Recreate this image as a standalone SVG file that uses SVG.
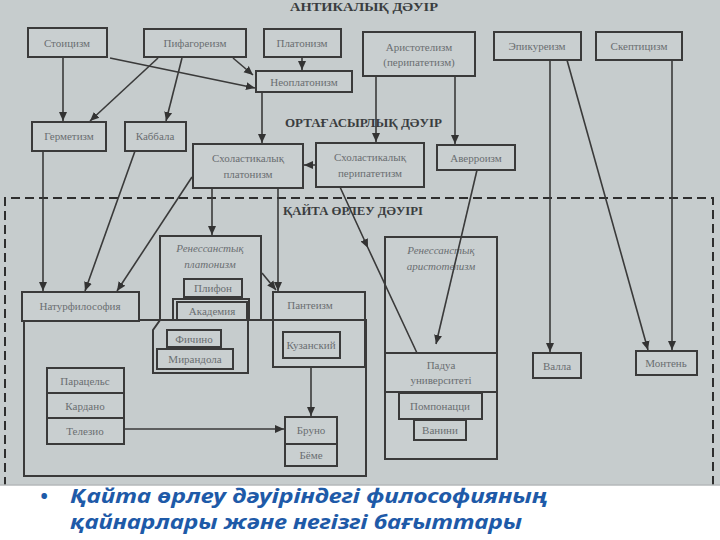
<svg xmlns="http://www.w3.org/2000/svg" width="720" height="540" viewBox="0 0 720 540">
<defs>
<style>
.bg{fill:#c6cccd}
.b{fill:#c9cfd0;stroke:#3a3a3a;stroke-width:2}
.bl{fill:none;stroke:#3a3a3a;stroke-width:2}
.t{font-family:"Liberation Serif","DejaVu Serif",serif;font-size:11px;fill:#6a6e70;text-anchor:middle}
.ti{font-family:"Liberation Serif","DejaVu Serif",serif;font-size:11px;font-style:italic;fill:#6a6e70;text-anchor:middle}
.h{font-family:"Liberation Serif","DejaVu Serif",serif;font-size:12px;font-weight:bold;fill:#3a3d3f}
.c{fill:none;stroke:#3a3a3a;stroke-width:1.6}
.d{fill:none;stroke:#2e2e2e;stroke-width:2;stroke-dasharray:9,5}
.cap{font-family:"Noto Sans","DejaVu Sans",sans-serif;font-size:20px;font-weight:bold;font-style:italic;fill:#1e5aa8}
</style>
<marker id="ah" markerUnits="userSpaceOnUse" markerWidth="10" markerHeight="10" refX="9" refY="5" orient="auto">
<path d="M0,1 L9,5 L0,9 z" fill="#333"/>
</marker>
</defs>
<rect class="bg" x="0" y="0" width="720" height="485"/>
<g id="frame">
<path class="d" d="M5,486 V198 H713 V486"/>
</g>
<g id="headings">
<text class="h" x="290" y="11" font-size="14" textLength="148" lengthAdjust="spacingAndGlyphs">АНТИКАЛЫҚ ДӘУІР</text>
<text class="h" x="285" y="127" textLength="157" lengthAdjust="spacingAndGlyphs">ОРТАҒАСЫРЛЫҚ ДӘУІР</text>
<text class="h" x="283" y="215" textLength="140" lengthAdjust="spacingAndGlyphs">ҚАЙТА ӨРЛЕУ ДӘУІРІ</text>
</g>
<g id="containers">
<rect class="bl" x="24" y="320" width="342" height="156"/>
<path class="bl" d="M175,299 L153,330 V373 H248 V299 Z"/>
</g>
<g id="stoicism"><rect class="b" x="28" y="28" width="79" height="29"/><text class="t" x="67" y="47">Стоицизм</text></g>
<g id="pythagoreanism"><rect class="b" x="144" y="29" width="102" height="28"/><text class="t" x="195" y="47">Пифагореизм</text></g>
<g id="platonism"><rect class="b" x="264" y="29" width="77" height="28"/><text class="t" x="302" y="47">Платонизм</text></g>
<g id="neoplatonism"><rect class="b" x="256" y="71" width="96" height="21"/><text class="t" x="304" y="86">Неоплатонизм</text></g>
<g id="aristotelianism"><rect class="b" x="363" y="32" width="112" height="44"/><text class="t" x="419" y="51">Аристотелизм</text><text class="t" x="419" y="66">(перипатетизм)</text></g>
<g id="epicureanism"><rect class="b" x="494" y="32" width="87" height="28"/><text class="t" x="537" y="50">Эпикуреизм</text></g>
<g id="scepticism"><rect class="b" x="596" y="32" width="86" height="28"/><text class="t" x="639" y="50">Скептицизм</text></g>
<g id="hermeticism"><rect class="b" x="32" y="122" width="74" height="29"/><text class="t" x="69" y="140">Герметизм</text></g>
<g id="kabbalah"><rect class="b" x="125" y="122" width="61" height="29"/><text class="t" x="155" y="140">Каббала</text></g>
<g id="scholastic-platonism"><rect class="b" x="193" y="144" width="110" height="44"/><text class="t" x="248" y="162">Схоластикалық</text><text class="t" x="248" y="178">платонизм</text></g>
<g id="scholastic-peripatetism"><rect class="b" x="316" y="143" width="108" height="44"/><text class="t" x="370" y="161">Схоластикалық</text><text class="t" x="370" y="177">перипатетизм</text></g>
<g id="averroism"><rect class="b" x="437" y="145" width="78" height="25"/><text class="t" x="476" y="162">Аверроизм</text></g>
<g id="renaissance-platonism"><rect class="b" x="160" y="236" width="101" height="84"/><text class="ti" x="210" y="252">Ренессанстық</text><text class="ti" x="210" y="268">платонизм</text></g>
<g id="plethon"><rect class="b" x="184" y="279" width="58" height="18"/><text class="t" x="213" y="292">Плифон</text></g>
<g id="academy"><rect class="bl" x="173" y="299" width="76" height="21" stroke-width="1.2"/><rect class="b" x="177" y="302" width="70" height="18"/><text class="t" x="212" y="315">Академия</text></g>
<g id="ficino"><rect class="b" x="167" y="330" width="54" height="17"/><text class="t" x="194" y="343">Фичино</text></g>
<g id="mirandola"><rect class="b" x="157" y="349" width="76" height="20"/><text class="t" x="195" y="363">Мирандола</text></g>
<g id="natural-philosophy"><rect class="b" x="22" y="292" width="117" height="29"/><text class="t" x="80" y="310">Натурфилософия</text></g>
<g id="pantheism"><rect class="b" x="273" y="292" width="92" height="75"/><line class="bl" x1="273" y1="320" x2="365" y2="320"/><text class="t" x="310" y="309">Пантеизм</text></g>
<g id="cusanus"><rect class="b" x="283" y="332" width="57" height="26"/><text class="t" x="311" y="349">Кузанский</text></g>
<g id="paracelsus-group"><rect class="b" x="47" y="368" width="77" height="76"/><line class="bl" x1="47" y1="393" x2="124" y2="393"/><line class="bl" x1="47" y1="418" x2="124" y2="418"/><text class="t" x="85" y="385">Парацельс</text><text class="t" x="85" y="410">Кардано</text><text class="t" x="85" y="435">Телезио</text></g>
<g id="bruno-boehme"><rect class="b" x="285" y="417" width="52" height="49"/><line class="bl" x1="285" y1="444" x2="337" y2="444"/><text class="t" x="311" y="434">Бруно</text><text class="t" x="311" y="459">Бёме</text></g>
<g id="renaissance-aristotelianism"><rect class="b" x="385" y="237" width="112" height="222"/><text class="ti" x="441" y="254">Ренессанстық</text><text class="ti" x="441" y="270">аристотелизм</text></g>
<g id="padua"><rect class="b" x="385" y="353" width="112" height="39"/><text class="t" x="441" y="369">Падуа</text><text class="t" x="441" y="384">университеті</text></g>
<g id="pomponazzi"><rect class="b" x="399" y="393" width="83" height="26"/><text class="t" x="440" y="410">Помпонацци</text></g>
<g id="vanini"><rect class="b" x="414" y="420" width="52" height="20"/><text class="t" x="440" y="434">Ванини</text></g>
<g id="valla"><rect class="b" x="533" y="353" width="48" height="25"/><text class="t" x="557" y="370">Валла</text></g>
<g id="montaigne"><rect class="b" x="636" y="351" width="61" height="24"/><text class="t" x="666" y="367">Монтень</text></g>
<g id="connectors">
<path class="c" marker-end="url(#ah)" d="M63,57 V121"/>
<path class="c" marker-end="url(#ah)" d="M110,58 L255,88"/>
<path class="c" marker-end="url(#ah)" d="M158,58 L90,121"/>
<path class="c" marker-end="url(#ah)" d="M182,58 L166,121"/>
<path class="c" marker-end="url(#ah)" d="M233,58 L253,75"/>
<path class="c" marker-end="url(#ah)" d="M302,57 V70"/>
<path class="c" marker-end="url(#ah)" d="M262,92 V143"/>
<path class="c" marker-end="url(#ah)" d="M376,76 V142"/>
<path class="c" marker-end="url(#ah)" d="M455,76 V144"/>
<path class="c" marker-end="url(#ah)" d="M316,165 H304"/>
<path class="c" marker-end="url(#ah)" d="M550,60 V352"/>
<path class="c" marker-end="url(#ah)" d="M567,60 L648,350"/>
<path class="c" marker-end="url(#ah)" d="M672,60 V350"/>
<path class="c" marker-end="url(#ah)" d="M43,151 V291"/>
<path class="c" marker-end="url(#ah)" d="M135,151 L85,291"/>
<path class="c" marker-end="url(#ah)" d="M192,177 L117,291"/>
<path class="c" marker-end="url(#ah)" d="M212,188 V235"/>
<path class="c" marker-end="url(#ah)" d="M278,188 V291"/>
<path class="c" marker-end="url(#ah)" d="M262,273 L276,290"/>
<path class="c" marker-mid="url(#ah)" d="M340,187 L368,248 L417,353"/>
<path class="c" marker-end="url(#ah)" d="M477,170 L436,344"/>
<path class="c" marker-end="url(#ah)" d="M311,367 V416"/>
<path class="c" marker-end="url(#ah)" d="M124,429 H284"/>
</g>
<rect x="0" y="485" width="720" height="55" fill="#ffffff"/>
<line x1="0" y1="485" x2="720" y2="485" stroke="#b5b9ba" stroke-width="1.5"/>
<g id="caption">
<text class="cap" x="40" y="503" font-style="normal">•</text>
<text class="cap" x="70" y="503" textLength="478" lengthAdjust="spacingAndGlyphs">Қайта өрлеу дәуіріндегі философияның</text>
<text class="cap" x="70" y="529" textLength="452" lengthAdjust="spacingAndGlyphs">қайнарлары және негізгі бағыттары</text>
</g>
</svg>
